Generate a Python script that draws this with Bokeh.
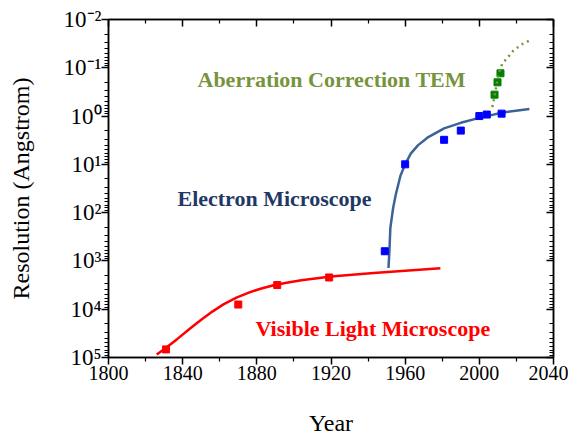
from bokeh.plotting import figure
from bokeh.models import Range1d, FixedTicker, LinearAxis, LogAxis, Label, CustomJSTickFormatter
from bokeh.embed import file_html
from bokeh.resources import INLINE

# ---- data ----
light_pts_year = [1831, 1870, 1891, 1919]
light_pts_res = [68000, 8000, 3160, 2200]
light_fit_year = [1826, 1830, 1837, 1844, 1850, 1856, 1862, 1869, 1876, 1882, 1889, 1896, 1904, 1920, 1943, 1979]
light_fit_res = [87100, 67600, 41700, 25100, 16600, 11200, 7940, 5750, 4470, 3760, 3200, 2820, 2510, 2110, 1780, 1410]

em_pts_year = [1949, 1960, 1981, 1990, 2000, 2004, 2012]
em_pts_res = [630, 10, 3.1, 2.0, 1.0, 0.93, 0.89]
em_fit_year = [1951, 1951.5, 1952, 1953.5, 1955, 1957.5, 1960, 1963, 1967, 1972, 1981, 1990, 2000, 2012, 2027]
em_fit_res = [1400, 630, 210, 80, 41, 17, 10, 6.0, 4.0, 2.8, 1.8, 1.38, 1.09, 0.85, 0.71]

tem_pts_year = [2008.2, 2009.8, 2011.4]
tem_pts_res = [0.36, 0.20, 0.13]
tem_fit_year = [2007, 2007.7, 2008.7, 2010.4, 2012.5, 2015.2, 2018.4, 2023.3, 2028.2]
tem_fit_res = [0.65, 0.48, 0.30, 0.13, 0.081, 0.062, 0.044, 0.032, 0.026]

x_ticks = [1800, 1840, 1880, 1920, 1960, 2000, 2040]
x_minor = [1820, 1860, 1900, 1940, 1980, 2020]
y_ticks = [1e5, 1e4, 1e3, 1e2, 1e1, 1e0, 1e-1, 1e-2]
y_minor = [k * 10.0 ** n for n in range(-2, 5) for k in range(2, 10)]

SERIF = "Liberation Serif"

p = figure(frame_width=445, frame_height=338,
           x_range=Range1d(1800, 2040), y_range=Range1d(1e5, 1e-2),
           y_axis_type="log", output_backend="svg", toolbar_location=None,
           min_border_left=108, min_border_top=19, min_border_right=15,
           min_border_bottom=76)
p.grid.visible = False
p.outline_line_color = "black"
p.outline_line_width = 1.5
p.background_fill_color = "white"
p.border_fill_color = "white"

xt = FixedTicker(ticks=x_ticks, minor_ticks=x_minor)
yt = FixedTicker(ticks=y_ticks, minor_ticks=y_minor)
fmt = CustomJSTickFormatter(code="""
const sup = {'-':'\u207b','0':'\u2070','1':'\u00b9','2':'\u00b2','3':'\u00b3','4':'\u2074','5':'\u2075','6':'\u2076','7':'\u2077','8':'\u2078','9':'\u2079'};
const e = Math.round(Math.log10(tick));
return '10' + String(e).split('').map(c => sup[c]).join('');
""")
blank = CustomJSTickFormatter(code="return '';")

for ax in p.xaxis:
    ax.ticker = xt
    ax.axis_label = "Year"
    ax.axis_label_text_font = SERIF
    ax.axis_label_text_font_style = "normal"
    ax.axis_label_text_font_size = "24px"
    ax.axis_label_standoff = 27
    ax.major_label_text_font = SERIF
    ax.major_label_text_font_size = "20px"
    ax.major_label_standoff = 1
for ax in p.yaxis:
    ax.ticker = yt
    ax.formatter = fmt
    ax.axis_label = "Resolution (Angstrom)"
    ax.axis_label_text_font = SERIF
    ax.axis_label_text_font_style = "normal"
    ax.axis_label_text_font_size = "24px"
    ax.axis_label_standoff = 27
    ax.major_label_text_font = SERIF
    ax.major_label_text_font_size = "23px"
    ax.major_label_standoff = 0

for ax in list(p.xaxis) + list(p.yaxis):
    ax.axis_line_width = 1.5
    ax.axis_line_color = "black"
    ax.major_tick_line_color = "black"
    ax.minor_tick_line_color = "black"
    ax.major_tick_line_width = 1.5
    ax.minor_tick_line_width = 1.2
    ax.major_tick_out = 7
    ax.major_tick_in = 0
    ax.minor_tick_out = 4
    ax.minor_tick_in = 0
    ax.major_label_text_color = "black"
    ax.axis_label_text_color = "black"

top = LinearAxis(ticker=xt, formatter=blank, major_label_standoff=0)
right = LogAxis(ticker=yt, formatter=blank, major_label_standoff=0)
for ax in (top, right):
    ax.axis_line_width = 1.5
    ax.axis_line_color = "black"
    ax.major_tick_line_color = "black"
    ax.minor_tick_line_color = "black"
    ax.major_tick_line_width = 1.5
    ax.minor_tick_line_width = 1.2
    ax.major_tick_out = 0
    ax.major_tick_in = 7
    ax.minor_tick_out = 0
    ax.minor_tick_in = 4
p.add_layout(top, "above")
p.add_layout(right, "right")

# lines and points
p.line(light_fit_year, light_fit_res, line_color="#FF0000", line_width=2.5)
p.scatter(light_pts_year, light_pts_res, marker="square", size=7, color="#FF0000")

p.line(em_fit_year, em_fit_res, line_color="#3A6496", line_width=2.5)
p.scatter(em_pts_year, em_pts_res, marker="square", size=7, color="#0000FF")

p.scatter(tem_pts_year, tem_pts_res, marker="square", size=7, color="#008000")
p.line(tem_fit_year, tem_fit_res, line_color="#77933C", line_width=2.5, line_dash="2 4")

for txt, xx, yy, col in [("Aberration Correction TEM", 1848, 0.176, "#77933C"),
                         ("Electron Microscope", 1837.2, 52, "#1F3864"),
                         ("Visible Light Microscope", 1879.3, 24700, "#FF0000")]:
    p.add_layout(Label(x=xx, y=yy, text=txt, text_color=col, text_font=SERIF,
                       text_font_style="bold", text_font_size="22px",
                       text_baseline="alphabetic", text_align="left"))

open("out.html", "w").write(file_html(p, INLINE))
